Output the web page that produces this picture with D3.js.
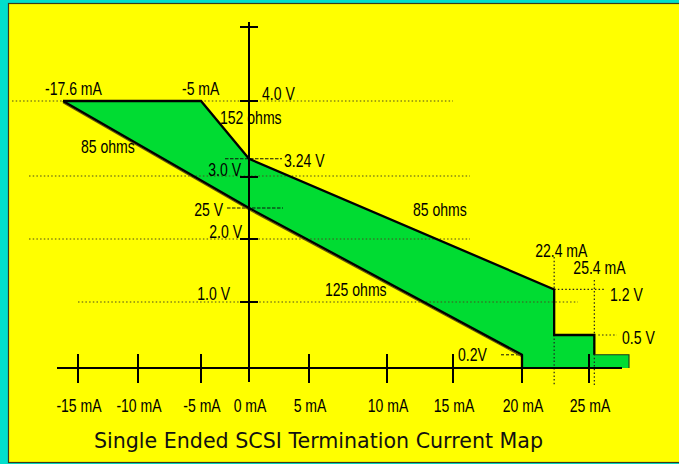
<!DOCTYPE html>
<html><head><meta charset="utf-8">
<script src="https://cdn.jsdelivr.net/npm/d3@7"></script>
<style>html,body{margin:0;padding:0;background:#00DFCB;overflow:hidden}svg{display:block}</style>
</head><body>
<svg id="c" width="679" height="464"></svg>
<script>
// ---- data (mA, V) ----
const xTickValues = [-15, -10, -5, 0, 5, 10, 15, 20, 25];
const xTickLabels = ["-15 mA", "-10 mA", "-5 mA", "0 mA", "5 mA", "10 mA", "15 mA", "20 mA", "25 mA"];
const yTickValues = [1, 2, 3, 4];
const yTickLabels = ["1.0 V", "2.0 V", "3.0 V", "4.0 V"];
// termination region outline (current mA, voltage V)
const regionCurrent = [-17.6, -5, 0, 22.4, 22.4, 25.4, 25.4, 28, 28, 20, 20, 0];
const regionVoltage = [4.0, 4.0, 3.24, 1.2, 0.5, 0.5, 0.2, 0.2, 0, 0, 0.2, 2.5];
// upper (source) boundary
const upperCurrent = [-17.6, -5, 0, 22.4, 22.4, 25.4, 25.4];
const upperVoltage = [4.0, 4.0, 3.24, 1.2, 0.5, 0.5, 0.2];
// lower boundary
const lowerCurrent = [-17.6, 0, 20, 20];
const lowerVoltage = [4.0, 2.5, 0.2, 0];
// tail step at 0.2 V
const tailCurrent = [25.4, 28, 28];
const tailVoltage = [0.2, 0.2, 0];

const svg = d3.select("#c");
// hand-drawn axes -> piecewise scales
const x = d3.scaleLinear()
  .domain([-17.6, -15, -10, -5, 0, 5, 10, 15, 20, 25, 28])
  .range([63, 78, 138, 201, 249, 309, 387, 453, 522, 589, 629]);
const y = d3.scaleLinear()
  .domain([0, 1, 2, 3, 4])
  .range([368, 302, 239, 177, 101]);

svg.append("rect").attr("x", 8.5).attr("y", 3.5).attr("width", 680).attr("height", 459)
  .attr("fill", "#FFFF00").attr("stroke", "#3b3a1a").attr("stroke-width", 1.2);

const pts = (xs, ys) => xs.map((v, i) => [x(v), y(ys[i])]);
const line = d3.line();

// green region
svg.append("path").attr("d", line(pts(regionCurrent, regionVoltage)) + "Z")
  .attr("fill", "#00DC32").attr("stroke", "none");

// dotted grid lines
const FONT = "'Liberation Sans', Arial, sans-serif";
function hline(x1, x2, yy, dash, w, col) {
  svg.append("line").attr("x1", x1).attr("x2", x2).attr("y1", yy).attr("y2", yy)
    .attr("stroke", col || "#4a4a20").attr("stroke-width", w || 1.1).attr("stroke-dasharray", dash);
}
function vline(xx, y1, y2, dash, w, col) {
  svg.append("line").attr("x1", xx).attr("x2", xx).attr("y1", y1).attr("y2", y2)
    .attr("stroke", col || "#4a4a20").attr("stroke-width", w || 1.1).attr("stroke-dasharray", dash);
}
const dot = "1.5,2.2";
hline(12, x(15), y(4), dot);
hline(29, 470, y(3) - 1, dot);
hline(29, 470, y(2), dot);
hline(x(-15), 578, y(1), dot);
hline(x(22.4), 604, y(1.2), dot, 1.2, "#222");
hline(x(25.4) + 4, 617, y(0.5), dot, 1.2, "#222");
vline(x(22.4), 257, 386, dot, 1.2, "#222");
vline(x(25.4), 280, 386, dot, 1.2, "#222");
// short dashed markers
hline(225, 282, y(3.24), "3.5,1.5", 1, "#111");
hline(227, 283, y(2.5), "3.5,1.5", 1, "#111");
hline(501, x(20), y(0.2), "3,2", 1, "#111");

// boundaries
svg.append("path").attr("d", line(pts(lowerCurrent.slice(0, 3), lowerVoltage.slice(0, 3))))
  .attr("transform", "translate(0,1.8)").attr("fill", "none")
  .attr("stroke", "#6a5a10").attr("stroke-width", 1.2);
svg.append("path").attr("d", line(pts(lowerCurrent, lowerVoltage)))
  .attr("fill", "none").attr("stroke", "#000").attr("stroke-width", 2.3).attr("stroke-linejoin", "round");
svg.append("path").attr("d", line(pts(upperCurrent, upperVoltage)))
  .attr("fill", "none").attr("stroke", "#000").attr("stroke-width", 2.3).attr("stroke-linejoin", "miter");
svg.append("path").attr("d", line(pts(tailCurrent, tailVoltage)))
  .attr("fill", "none").attr("stroke", "#1a3a1a").attr("stroke-width", 1.1);

// axes
const axisCol = "#000";
svg.append("line").attr("x1", x(0)).attr("x2", x(0)).attr("y1", 22).attr("y2", 382)
  .attr("stroke", axisCol).attr("stroke-width", 2);
svg.append("line").attr("x1", 57).attr("x2", 622).attr("y1", y(0)).attr("y2", y(0))
  .attr("stroke", axisCol).attr("stroke-width", 2);
// y ticks (plus top cross)
[...yTickValues.map(v => y(v)), 27].forEach(yy => {
  svg.append("line").attr("x1", x(0) - 9).attr("x2", x(0) + 9).attr("y1", yy).attr("y2", yy)
    .attr("stroke", axisCol).attr("stroke-width", 2);
});
// x ticks
xTickValues.forEach(v => {
  if (v === 0) return;
  svg.append("line").attr("x1", x(v)).attr("x2", x(v)).attr("y1", y(0) - 14).attr("y2", y(0) + 15)
    .attr("stroke", axisCol).attr("stroke-width", 2);
});

// narrow text helper
function label(str, px, py, anchor, size) {
  svg.append("text").attr("transform", `translate(${px},${py}) scale(0.78,1)`)
    .attr("text-anchor", anchor || "start").attr("font-family", FONT)
    .attr("font-size", size || 18).attr("fill", "#000").text(str);
}
xTickValues.forEach((v, i) => label(xTickLabels[i], x(v) + 1, 412, "middle"));
label(yTickLabels[3], x(0) + 13, 100, "start");
label(yTickLabels[2], x(0) - 8, 176, "end");
label(yTickLabels[1], x(0) - 7, 238, "end");
label(yTickLabels[0], x(0) - 19, 300, "end");

label("-17.6 mA", x(-17.6) - 18, 95);
label("-5 mA", x(-5) - 19, 95);
label("152 ohms", 220, 124);
label("85 ohms", 81, 153);
label("3.24 V", 284, 167);
label("25 V", 223, 216, "end");
label("85 ohms", 413, 216);
label("125 ohms", 325, 296);
label("22.4 mA", x(22.4) - 19, 257);
label("25.4 mA", x(25.4) - 21, 274);
label("1.2 V", 610, 301);
label("0.5 V", 622, 344);
label("0.2V", 458, 361);

svg.append("text").attr("x", 318.5).attr("y", 448).attr("text-anchor", "middle")
  .attr("font-family", "'DejaVu Sans', sans-serif").attr("font-size", 20.6).attr("fill", "#111")
  .text("Single Ended SCSI Termination Current Map");
</script>
</body></html>
